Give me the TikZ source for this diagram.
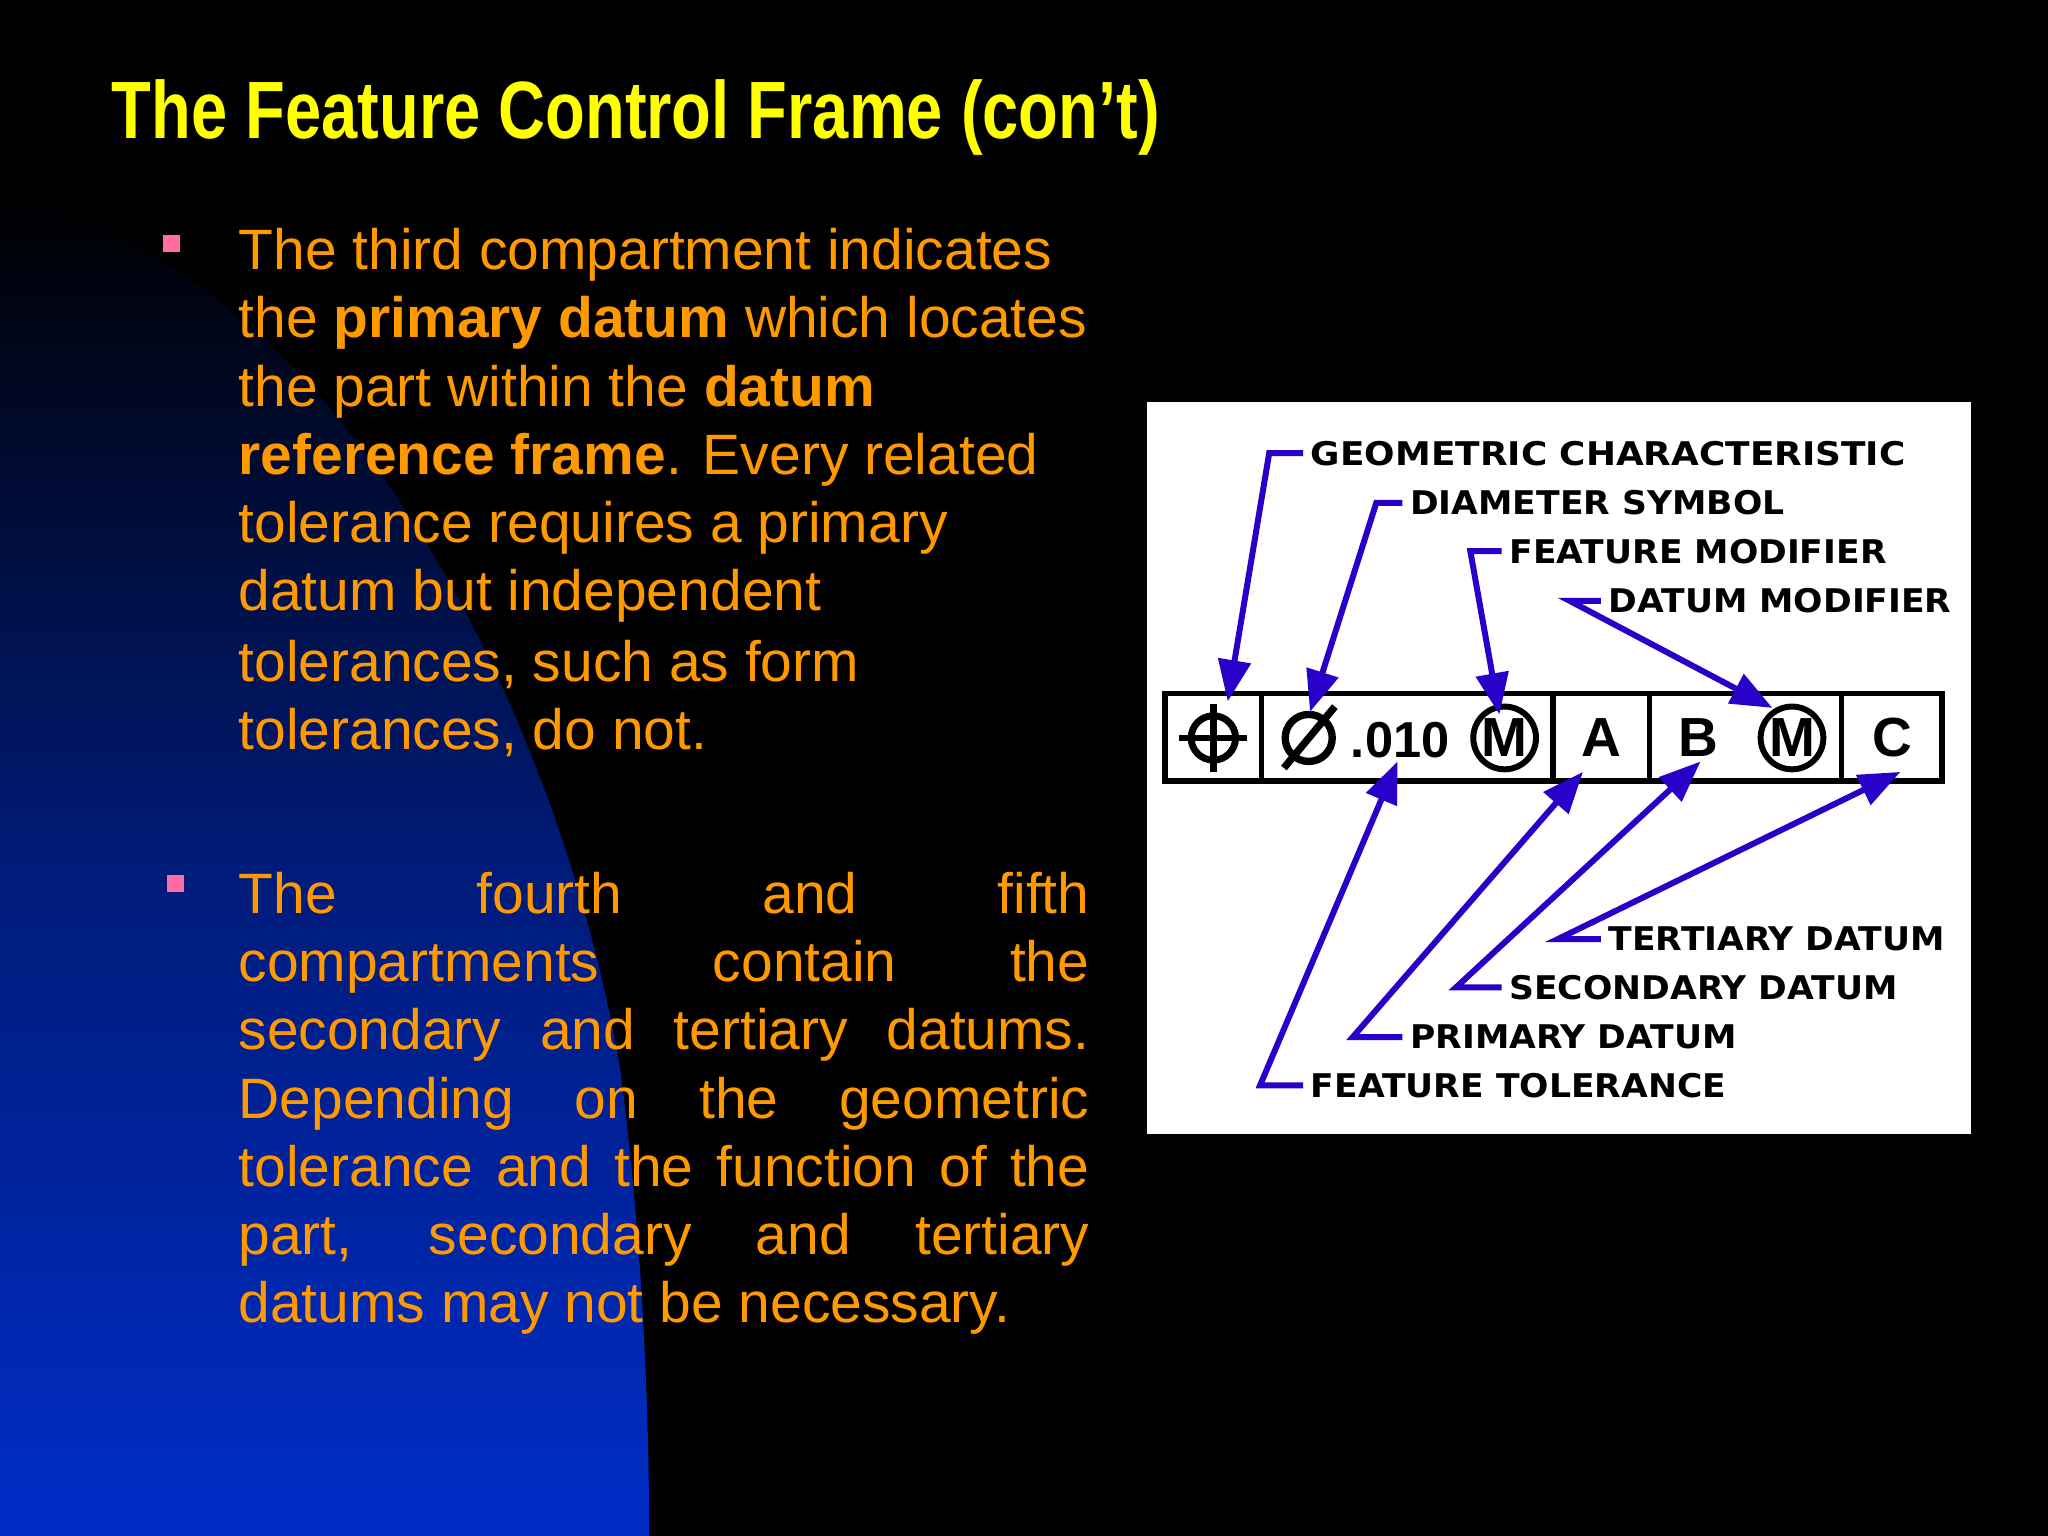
\documentclass[tikz,border=0pt]{standalone}
\usepackage{fontspec}
\setmainfont{Liberation Sans}
\newfontfamily\lblfont{DejaVu Sans}
\usetikzlibrary{arrows.meta}
\definecolor{ttl}{RGB}{255,255,0}
\definecolor{bodyc}{RGB}{255,153,0}
\definecolor{leadc}{RGB}{40,0,200}
\definecolor{bluebg}{RGB}{0,45,200}
\definecolor{bul}{RGB}{255,110,160}
\tikzset{
  bodyline/.style={anchor=west,inner sep=0pt,text=bodyc,font=\fontsize{12.4}{14.8}\selectfont},
  lbl/.style={anchor=west,inner sep=0pt,font=\lblfont\bfseries\fontsize{7.1}{8}\selectfont},
  leadarr/.style={leadc,line width=1.3pt,-{Triangle[length=9pt,width=7pt]}},
  frm/.style={line width=1.2pt},
  circm/.style={circle,draw,line width=1.3pt,inner sep=0pt,minimum size=0.48cm,font=\bfseries\fontsize{12}{12}\selectfont}
}
\begin{document}
\begin{tikzpicture}[x=0.01cm,y=-0.01cm]
\fill[black] (0,0) rectangle (1568,1176);
\shade[top color=black,bottom color=bluebg,middle color=bluebg!60!black]
  (0,150) .. controls (260,200) and (430,550) .. (475,820) .. controls (492,950) and (497,1080) .. (497,1176) -- (0,1176) -- cycle;
\node[anchor=west,inner sep=0pt,text=ttl] (title) at (85,90) {\scalebox{0.8}[1]{\fontsize{17.7}{20}\selectfont\bfseries The Feature Control Frame (con’t)}};
\fill[bul] (125,180) rectangle (138,193);
\fill[bul] (128,670) rectangle (141,683);
\foreach \t [count=\i] in {The third compartment indicates,the \textbf{primary datum} which locates,the part within the \textbf{datum},\textbf{reference frame}.  Every related,tolerance requires a primary,datum but independent,{tolerances, such as form},{tolerances, do not.}}
  \node[bodyline] (p\i) at (182,{195+52.3*(\i-1)}) {\t};
\foreach \t [count=\i] in {The fourth and fifth,compartments contain the,secondary and tertiary datums.,Depending on the geometric,tolerance and the function of the,{part, secondary and tertiary}}
  \node[bodyline] (q\i) at (182,{689+52.2*(\i-1)}) {\makebox[6.51cm][s]{\strut\t}};
\node[bodyline] (q7) at (182,1002) {\strut datums may not be necessary.};
% diagram
\fill[white] (878,308) rectangle (1509,868);
\draw[frm] (892,531) rectangle (1487,598);
\foreach \x in {966,1189,1263,1410} \draw[frm] (\x,531) -- (\x,598);
\draw[line width=1.5pt] (929,565) circle (17);
\draw[line width=1.5pt] (903,565) -- (955,565) (929,539) -- (929,591);
\draw[line width=1.6pt] (1002,565) circle (18) (983,588) -- (1022,541);
\node[inner sep=0pt,font=\bfseries\fontsize{11}{12}\selectfont] (tol) at (1072,567) {.010};
\node[circm] (m1) at (1152,565) {M};
\node[inner sep=0pt,font=\bfseries\fontsize{12}{12}\selectfont] (A) at (1226,565) {A};
\node[inner sep=0pt,font=\bfseries\fontsize{12}{12}\selectfont] (B) at (1300,565) {B};
\node[circm] (m2) at (1372,565) {M};
\node[inner sep=0pt,font=\bfseries\fontsize{12}{12}\selectfont] (C) at (1449,565) {C};
% labels
\node[lbl] (l1) at (1003,347) {\scalebox{1.1}[1]{GEOMETRIC CHARACTERISTIC}};
\node[lbl] (l2) at (1079,385) {\scalebox{1.06}[1]{DIAMETER SYMBOL}};
\node[lbl] (l3) at (1155,422) {\scalebox{1.06}[1]{FEATURE MODIFIER}};
\node[lbl] (l4) at (1231,460) {\scalebox{1.06}[1]{DATUM MODIFIER}};
\node[lbl] (l5) at (1231,719) {\scalebox{1.06}[1]{TERTIARY DATUM}};
\node[lbl] (l6) at (1155,756) {\scalebox{1.06}[1]{SECONDARY DATUM}};
\node[lbl] (l7) at (1079,794) {\scalebox{1.06}[1]{PRIMARY DATUM}};
\node[lbl] (l8) at (1003,831) {\scalebox{1.06}[1]{FEATURE TOLERANCE}};
\coordinate (t1) at (940,537); \coordinate (t2) at (1003,545);
\coordinate (t3) at (1148,547); \coordinate (t4) at (1357,542);
\coordinate (t5) at (1455,591); \coordinate (t6) at (1302,583);
\coordinate (t7) at (1212,591); \coordinate (t8) at (1070,583);
\draw[leadarr] ([xshift=-1.5pt]l1.west) -- ++(-26,0) -- (t1);
\draw[leadarr] ([xshift=-1.5pt]l2.west) -- ++(-20,0) -- (t2);
\draw[leadarr] ([xshift=-1.5pt]l3.west) -- ++(-24,0) -- (t3);
\draw[leadarr] ([xshift=-1.5pt]l4.west) -- ++(-24,0) -- (t4);
\draw[leadarr] ([xshift=-1.5pt]l5.west) -- ++(-33,0) -- (t5);
\draw[leadarr] ([xshift=-1.5pt]l6.west) -- ++(-35,0) -- (t6);
\draw[leadarr] ([xshift=-1.5pt]l7.west) -- ++(-38,0) -- (t7);
\draw[leadarr] ([xshift=-1.5pt]l8.west) -- ++(-33,0) -- (t8);
\end{tikzpicture}
\end{document}
